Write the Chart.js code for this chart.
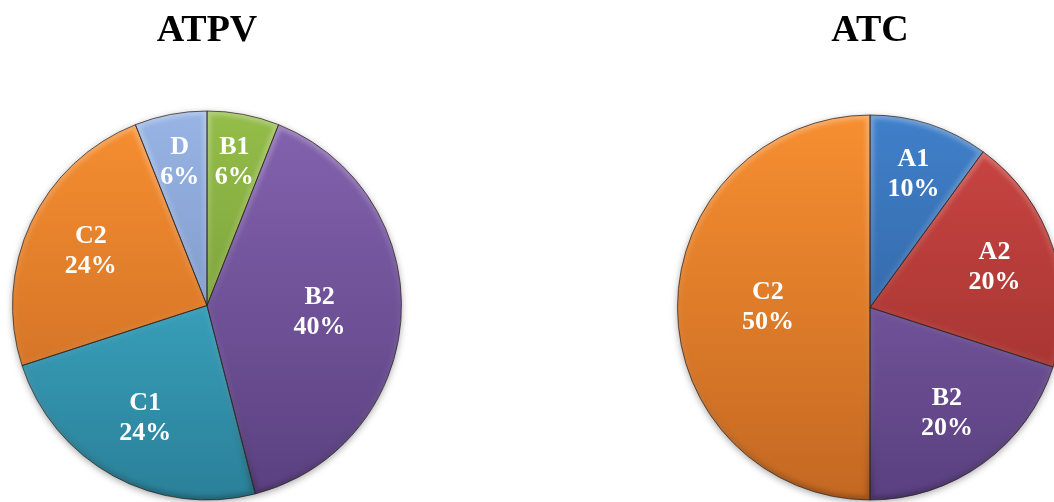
<!DOCTYPE html>
<html>
<head>
<meta charset="utf-8">
<script src="https://cdn.jsdelivr.net/npm/chart.js@4"></script>
<style>
    html, body { margin: 0; padding: 0; background: #fff; overflow: hidden; }
    body { width: 1054px; height: 502px; position: relative; }
    .pie-box { position: absolute; top: 0; height: 502px; }
    #atpvBox { left: 0; width: 414px; }
    #atcBox { left: 660px; width: 420px; }
</style>
</head>
<body>
<div class="pie-box" id="atpvBox"><canvas id="atpvChart"></canvas></div>
<div class="pie-box" id="atcBox"><canvas id="atcChart"></canvas></div>
<script>
const atpvLabels = ['B1', 'B2', 'C1', 'C2', 'D'];
const atpvValues = [6, 40, 24, 24, 6];
const atpvTop = ['#94BD49', '#8463AF', '#46BBDA', '#F78F31', '#97B4E4'];
const atpvBottom = ['#6B8D31', '#5A4080', '#2A8098', '#C46822', '#6F87B5'];

const atcLabels = ['A1', 'A2', 'B2', 'C2'];
const atcValues = [10, 20, 20, 50];
const atcTop = ['#4080CA', '#CC4643', '#8463AF', '#F78F31'];
const atcBottom = ['#2A568E', '#962E2B', '#5A4080', '#C46822'];

const SERIF = '"Liberation Serif", "Times New Roman", serif';

// soft drop shadow under the whole pie
const pieShadow = {
    id: 'pieShadow',
    beforeDatasetsDraw(chart) {
        const arc = chart.getDatasetMeta(0).data[0];
        if (!arc) return;
        const { ctx } = chart;
        ctx.save();
        ctx.shadowColor = 'rgba(0, 0, 0, 0.35)';
        ctx.shadowBlur = 7;
        ctx.shadowOffsetY = 2;
        ctx.fillStyle = '#fff';
        ctx.beginPath();
        ctx.arc(arc.x, arc.y, arc.outerRadius, 0, Math.PI * 2);
        ctx.fill();
        ctx.restore();
    }
};

function slicePath(ctx, arc) {
    ctx.beginPath();
    ctx.moveTo(arc.x, arc.y);
    ctx.arc(arc.x, arc.y, arc.outerRadius, arc.startAngle, arc.endAngle);
    ctx.closePath();
}

// bevel shading on each slice, then the value labels
const sliceDecor = {
    id: 'sliceDecor',
    afterDatasetsDraw(chart) {
        const { ctx } = chart;
        const meta = chart.getDatasetMeta(0);
        const ds = chart.data.datasets[0];
        meta.data.forEach(arc => {
            const r = arc.outerRadius;
            ctx.save();
            slicePath(ctx, arc);
            ctx.clip();
            const g = ctx.createLinearGradient(0, arc.y - r, 0, arc.y + r);
            g.addColorStop(0, 'rgba(255, 255, 255, 0.28)');
            g.addColorStop(0.5, 'rgba(255, 255, 255, 0.04)');
            g.addColorStop(1, 'rgba(0, 0, 0, 0.22)');
            ctx.strokeStyle = g;
            ctx.lineWidth = 8;
            ctx.lineJoin = 'round';
            ctx.filter = 'blur(2px)';
            ctx.stroke();
            ctx.restore();

            ctx.save();
            slicePath(ctx, arc);
            ctx.strokeStyle = 'rgba(45, 35, 30, 0.75)';
            ctx.lineWidth = 1;
            ctx.stroke();
            ctx.restore();
        });

        meta.data.forEach((arc, i) => {
            const pct = ds.data[i];
            const mid = (arc.startAngle + arc.endAngle) / 2;
            const f = Math.min(0.76, 0.78 - 0.5 * pct / 100);
            const x = arc.x + Math.cos(mid) * arc.outerRadius * f;
            const y = arc.y + Math.sin(mid) * arc.outerRadius * f;
            ctx.save();
            ctx.fillStyle = '#fff';
            ctx.font = 'bold 26px ' + SERIF;
            ctx.textAlign = 'center';
            ctx.textBaseline = 'middle';
            ctx.fillText(chart.data.labels[i], x, y - 15);
            ctx.fillText(pct + '%', x, y + 15);
            ctx.restore();
        });
    }
};

function makePie(canvasId, title, labels, values, tops, bottoms, gapBelowTitle) {
    const ctx = document.getElementById(canvasId);
    return new Chart(ctx, {
        type: 'pie',
        data: {
            labels: labels,
            datasets: [{
                data: values,
                borderWidth: 0,
                backgroundColor: (c) => {
                    const area = c.chart.chartArea;
                    if (!area) return tops[c.dataIndex];
                    const g = c.chart.ctx.createLinearGradient(0, area.top, 0, area.bottom);
                    g.addColorStop(0, tops[c.dataIndex]);
                    g.addColorStop(1, bottoms[c.dataIndex]);
                    return g;
                }
            }]
        },
        options: {
            responsive: true,
            maintainAspectRatio: false,
            animation: false,
            layout: { padding: { bottom: 2 } },
            plugins: {
                legend: { display: false },
                tooltip: { enabled: false },
                title: {
                    display: true,
                    text: title,
                    color: '#000',
                    font: { family: SERIF, size: 38, weight: 'bold', lineHeight: 1.2 },
                    padding: { top: 8, bottom: gapBelowTitle }
                }
            }
        },
        plugins: [pieShadow, sliceDecor]
    });
}

makePie('atpvChart', 'ATPV', atpvLabels, atpvValues, atpvTop, atpvBottom, 57.4);
makePie('atcChart', 'ATC', atcLabels, atcValues, atcTop, atcBottom, 61.4);
</script>
</body>
</html>
